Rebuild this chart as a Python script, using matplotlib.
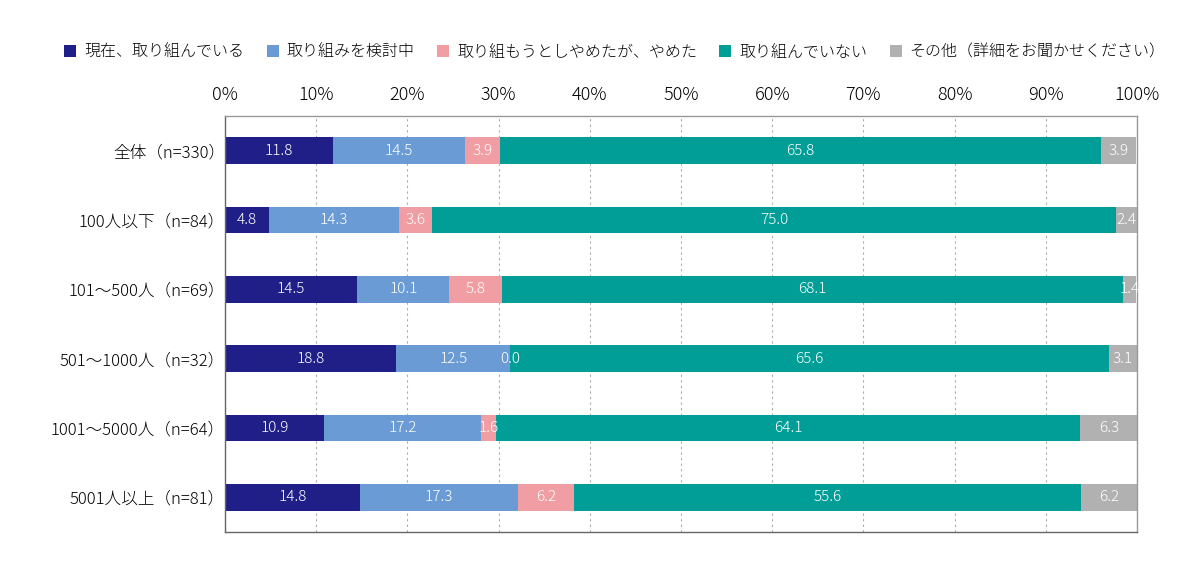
import numpy as np
import matplotlib
matplotlib.use("Agg")
import matplotlib.pyplot as plt

plt.rcParams['font.family'] = ['Noto Sans CJK JP', 'DejaVu Sans']

# データ
categories = ['全体（n=330）', '100人以下（n=84）', '101～500人（n=69）',
              '501～1000人（n=32）', '1001～5000人（n=64）', '5001人以上（n=81）']
series_names = ['現在、取り組んでいる', '取り組みを検討中', '取り組もうとしやめたが、やめた',
                '取り組んでいない', 'その他（詳細をお聞かせください）']
torikumi = [11.8, 4.8, 14.5, 18.8, 10.9, 14.8]
kentou = [14.5, 14.3, 10.1, 12.5, 17.2, 17.3]
yameta = [3.9, 3.6, 5.8, 0.0, 1.6, 6.2]
inai = [65.8, 75.0, 68.1, 65.6, 64.1, 55.6]
sonota = [3.9, 2.4, 1.4, 3.1, 6.3, 6.2]
colors = ['#1f1f87', '#6b9bd4', '#f09da3', '#009e96', '#b1b1b1']

series = [torikumi, kentou, yameta, inai, sonota]

fig = plt.figure(figsize=(12, 5.72), dpi=100)
ax = fig.add_axes([225 / 1200, 1 - 532 / 572, (1137 - 225) / 1200, (532 - 116) / 572])

y = np.arange(len(categories))
left = np.zeros(len(categories))
for name, vals, c in zip(series_names, series, colors):
    vals = np.array(vals)
    ax.barh(y, vals, left=left, height=0.38, color=c, label=name, zorder=2)
    for yi, (l, v) in enumerate(zip(left, vals)):
        ax.text(l + v / 2, yi, f'{v:.1f}', ha='center', va='center',
                color='white', fontsize=11, fontweight='light', zorder=3)
    left = left + vals

ax.set_xlim(0, 100)
ax.set_ylim(len(categories) - 0.5, -0.5)
ax.set_yticks(y)
ax.set_yticklabels(categories, fontsize=12, fontweight='light')
ax.set_xticks(np.arange(0, 101, 10))
ax.set_xticklabels([f'{t}%' for t in range(0, 101, 10)], fontsize=13, fontweight='light')
ax.xaxis.tick_top()
ax.tick_params(axis='x', length=0, pad=9)
ax.tick_params(axis='y', length=0, pad=0)
ax.grid(axis='x', linestyle=(0, (2, 3)), color='#aaaaaa', linewidth=0.8, zorder=1)
for s in ax.spines.values():
    s.set_color('#666666')
    s.set_linewidth(1)
ax.spines['top'].set_color('#999999')
ax.spines['right'].set_color('#999999')

fig.legend(loc='center', bbox_to_anchor=(0.5125, 1 - 52 / 572), ncol=5, frameon=False,
           prop={'size': 11.5, 'weight': 'light'}, handlelength=0.75, handleheight=0.75,
           handletextpad=0.5, columnspacing=1.4)

fig.savefig('out.png', dpi=100)
